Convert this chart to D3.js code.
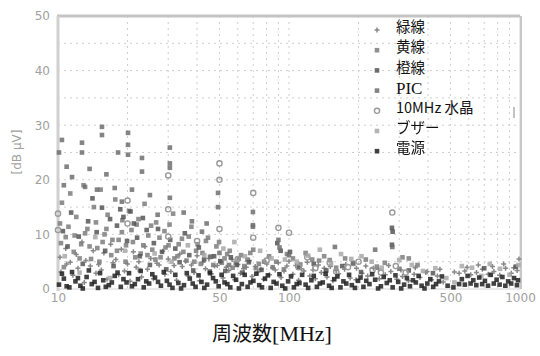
<!DOCTYPE html>
<html>
<head>
<meta charset="utf-8">
<script src="https://cdn.jsdelivr.net/npm/d3@7"></script>
<style>
  body { margin: 0; background: #fff; }
  svg { display: block; }
</style>
</head>
<body>
<svg id="chart" width="540" height="356"></svg>
<script>
// ticks
var xTicks = [10, 50, 100, 500, 1000]
var yTicks = [0, 10, 20, 30, 40, 50]
var xGrid = [20, 30, 40, 50, 60, 70, 80, 90, 100, 200, 300, 400, 500, 600, 700, 800, 900]
var yGrid = [5, 10, 15, 20, 25, 30, 35, 40, 45]

// series names (legend order)
var seriesNames = ["緑線", "黄線", "橙線", "PIC", "10MHz 水晶", "ブザー", "電源"]

// [MHz, dBuV]
var green = [[10.3,3.1],[10.9,4.6],[11.6,2.5],[12.2,3.8],[13.0,1.2],[13.8,4.2],[14.6,2.9],[15.4,3.5],[16.3,1.8],[17.3,4.8],[18.3,2.6],[19.4,3.3],[20.5,1.4],[21.8,4.0],[23.0,2.2],[24.4,3.6],[25.9,1.9],[27.4,4.4],[29.0,2.7],[30.8,3.2],[32.6,1.6],[34.5,4.1],[36.6,2.4],[38.8,3.0],[41.1,1.5],[43.5,3.7],[46.1,2.8],[48.9,4.3],[51.8,2.0],[54.9,3.4],[58.2,1.7],[61.6,2.9],[65.3,4.0],[69.2,2.3],[73.3,3.1],[77.7,1.8],[82.3,2.6],[87.2,3.5],[92.4,2.1],[97.9,4.2],[104,2.7],[110,1.6],[116,3.3],[123,2.4],[130,1.9],[138,3.0],[146,2.2],[155,1.5],[164,2.8],[174,3.6],[184,2.0],[195,1.7],[207,2.9],[219,2.4],[232,3.8],[246,1.9],[261,2.6],[276,3.2],[293,1.8],[310,2.3],[329,1.5],[348,2.7],[369,2.1],[391,3.0],[414,1.7],[439,2.4],[465,1.3],[545,2.9],[577,3.3],[612,2.6],[648,3.0],[687,3.6],[728,2.7],[771,3.2],[817,2.5],[866,3.8],[917,2.9],[972,3.4],[990,5.5],
  [10.2,5.8],[10.8,7.4],[11.3,4.9],[12.0,6.3],[12.7,8.6],[13.2,5.2],[14.2,7.0],[15.0,4.5],[15.8,6.6],[16.9,8.2],[17.8,5.4],[18.8,7.3],[20.0,4.6],[21.2,6.8],[22.4,5.0],[23.8,7.8],[25.2,5.6],[26.8,4.7],[28.4,6.9],[30.0,5.5],[31.8,4.3],[33.7,6.4],[35.7,5.1],[37.8,4.4],[40.0,6.1],[42.4,4.9],[45.0,5.6],[47.6,4.2],[50.5,5.0],[53.5,4.0],[56.7,5.4],[60.1,4.5],[63.6,3.7],[67.4,5.2],[71.4,4.1],[75.6,3.6],[80.1,4.6],[84.9,3.9],[89.9,4.8],[95.2,3.3],[100,5.1],[107,4.3],[113,3.7],[120,4.9],[127,3.5],[134,4.4],[142,3.8],[151,4.1],[160,3.4],[176,4.5],[196,3.8],[215,4.2],[244,3.6],[270,4.3],[305,3.5],[352,3.9],[396,3.2],[450,3.6],[520,3.1],[590,4.0],[660,4.4],[760,4.1],[850,4.6],[940,3.9]]

var yellow = [[10.2,12.0],[10.4,15.8],[10.8,9.5],[11.3,17.5],[11.7,6.8],[12.0,13.2],[12.6,8.2],[12.9,19.0],[13.4,11.0],[13.9,5.5],[14.3,15.0],[14.8,7.5],[15.3,18.2],[15.9,10.0],[16.4,13.6],[17.0,6.2],[17.7,16.4],[18.3,9.0],[19.0,12.6],[19.6,5.0],[20.3,14.3],[21.1,8.6],[21.9,11.8],[22.8,6.5],[23.7,15.6],[24.6,9.8],[25.6,7.2],[26.6,12.2],[27.8,5.8],[28.9,10.6],[30.1,8.0],[31.5,13.8],[32.9,6.0],[34.4,9.2],[36.0,5.2],[37.8,11.4],[39.6,7.0],[41.5,4.6],[43.7,8.8],[46.0,5.9],[48.5,7.8],[51.2,4.8],[54.0,6.4],[57.0,3.9],[60.5,5.6],[64.0,4.2],[68.0,6.6],[72.0,3.8],[78.0,5.0],[85.0,4.0],[95,3.6],[112,4.5],[135,5.2],[160,3.9],[190,4.6],[240,4.1],[300,3.7],[360,4.4],
  [10.3,8.4],[10.6,4.0],[11.1,11.4],[11.8,9.8],[12.4,5.6],[13.1,10.2],[13.7,7.8],[14.6,12.2],[15.1,5.0],[15.6,8.6],[16.2,11.0],[17.2,9.0],[18.0,7.0],[18.9,10.4],[19.7,8.0],[20.8,10.8],[21.6,5.8],[22.3,12.8],[23.4,8.0],[24.4,6.2],[25.3,11.6],[26.4,5.4],[27.5,9.4],[29.2,7.6],[30.4,11.8],[31.9,5.6],[33.3,8.2],[34.9,6.8],[36.8,9.6],[38.9,5.0],[40.2,8.2],[42.2,6.6],[44.6,9.4],[47.0,4.4],[49.8,8.6],[52.6,5.6],[55.4,7.0],[58.8,4.8],[62.0,6.2],[66.0,5.4],[70.0,7.2],[74.0,4.6],[82.0,6.0],[88.0,5.0],[98,6.4],[104,5.6],[118,6.6],[126,5.4],[142,6.0],[150,5.3],[175,5.6],[215,5.4],[260,4.8],[310,5.8],[330,5.6]]

var orange = [[10.5,10.6],[11.0,7.8],[11.4,14.0],[12.3,9.6],[12.8,4.6],[13.5,12.4],[14.1,16.6],[14.7,10.4],[15.5,14.9],[16.0,7.0],[16.8,12.8],[17.4,4.2],[18.0,11.6],[18.6,14.6],[19.2,13.2],[19.9,8.8],[20.6,14.2],[21.3,12.0],[22.0,9.4],[22.6,6.0],[23.3,13.0],[24.2,10.8],[25.0,4.4],[26.0,8.4],[27.1,11.0],[28.2,6.8],[29.4,3.6],[30.6,9.0],[32.2,7.4],[33.6,4.9],[35.4,10.2],[37.0,6.2],[38.5,3.4],[40.7,7.6],[42.9,5.4],[45.4,3.2],[47.4,6.0],[50.4,5.1],[53.0,3.3],[56.0,5.8],[59.5,4.4],[63.0,3.0],[67.0,4.9],[76,3.5],[89,8.4],[92,7.0],[101,6.8],[110,3.9],[128,4.6],[145,3.4],[170,4.2],[205,3.1],[279,11.2],[281,10.5],[279,8.1],[330,3.4],[420,2.9],[700,3.8],[960,4.1]]

var pic = [[10.4,27.3],[10.1,25.0],[10.6,19.0],[10.9,22.4],[12.7,26.8],[12.7,25.0],[13.1,18.7],[14.75,18.2],[15.5,29.7],[15.5,28.2],[17.6,18.5],[18.2,25.0],[20.1,28.6],[20.1,26.4],[20.1,24.6],[20.9,18.2],[23.1,24.0],[23.1,21.5],[30.5,25.9],[30.5,23.0],[30.5,22.2],[30.5,16.7],[11.5,20.5],[16.2,21.0],[13.7,22.0],[18.9,16.0],[25.0,17.2],[27.0,13.6],[35.0,14.0],[38.0,12.4],[42.0,10.5],[44.0,12.0],[49.3,17.6],[49.3,15.0],[69.8,14.1],[69.8,11.7],[69.8,11.4],[45.5,5.9],[50.0,6.6],[55.0,4.4],[90,9.0],[91,7.6],[100,6.2],[158,7.7],[236,7.2],[189,4.8],[280,7.7]]

var crystal = [[10,10.8],[10,13.8],[20,16.2],[20,12.0],[30,20.8],[30,14.6],[30,9.6],[40,8.8],[50,23.0],[50,20.0],[50,11.0],[60,5.5],[70,17.6],[70,9.4],[80,5.2],[90,11.2],[100,10.3],[110,4.0],[120,5.8],[130,3.8],[150,4.8],[160,3.2],[180,4.0],[200,5.0],[230,3.5],[250,3.0],[280,14.0],[290,4.2],[320,3.0]]

var buzzer = [[10.7,6.0],[12.4,3.0],[14.5,9.5],[16.8,2.0],[19.5,7.0],[22.5,3.5],[26.2,6.5],[31.0,5.0],[36.5,8.0],[43.0,6.2],[52.0,7.4],[58.0,8.6],[64.5,6.0],[75.0,7.0],[84.0,5.6],[96.0,5.4],[108,5.0],[121,6.1],[136,7.2],[152,4.6],[168,6.4],[186,5.5],[206,6.0],[228,5.0],[252,3.9],[300,5.3],[340,4.4],[380,3.3],[430,3.8],[480,2.0],[520,1.2],[560,4.2],[620,3.9],[680,2.4],[740,4.6],[820,3.7],[900,2.6],[985,4.4]]

var power = [[10.1,0.8],[10.6,1.9],[11.2,0.3],[11.9,1.4],[12.5,0.6],[13.3,2.2],[14.0,0.9],[14.9,0.2],[15.7,1.6],[16.6,0.7],[17.6,2.4],[18.7,0.4],[19.8,1.2],[20.9,0.5],[22.2,1.8],[23.5,0.3],[24.8,1.0],[26.3,2.1],[27.9,0.6],[29.6,1.5],[31.3,0.2],[33.2,1.1],[35.1,0.7],[37.2,1.9],[39.4,0.4],[41.8,1.3],[44.2,0.8],[46.9,2.0],[49.6,0.5],[52.6,1.2],[55.7,0.3],[59.0,1.7],[62.5,0.9],[66.2,0.4],[70.1,1.5],[74.3,0.7],[78.7,1.9],[83.3,0.2],[88.3,1.0],[93.5,0.6],[99.1,1.4],[105,0.3],[111,1.1],[118,0.8],[125,1.6],[132,0.4],[140,1.2],[149,0.6],[157,1.8],[167,0.3],[177,1.0],[187,0.7],[199,1.5],[210,0.4],[223,0.9],[236,1.7],[250,0.5],[265,1.1],[281,0.3],[297,1.3],[315,0.8],[334,0.5],[354,1.2],[375,0.6],[397,1.0],[421,0.4],[446,1.4],[560,1.8],[593,2.4],[628,1.6],[666,2.1],[705,1.5],[747,2.6],[792,1.7],[839,2.2],[889,1.4],[942,2.0],[980,1.6],
  [10.4,2.8],[10.9,0.5],[11.5,3.1],[12.2,2.0],[12.8,0.1],[13.6,3.4],[14.4,1.3],[15.2,2.9],[16.1,0.4],[17.1,1.2],[18.1,3.0],[19.2,1.8],[20.3,2.9],[21.5,0.9],[22.8,3.3],[24.1,1.4],[25.6,2.7],[27.1,1.3],[28.7,3.1],[30.4,0.8],[32.2,2.6],[34.1,0.1],[36.1,2.9],[38.3,1.0],[40.6,2.5],[43.0,0.2],[45.5,2.9],[48.2,1.4],[51.1,2.6],[54.1,0.9],[57.3,2.4],[60.7,0.1],[64.3,2.6],[68.1,1.2],[72.2,2.8],[76.4,0.3],[81.0,2.5],[85.8,1.3],[90.9,2.7],[96.3,0.1],[102,2.3],[108,0.9],[114,2.6],[121,0.2],[128,2.4],[136,1.0],[144,2.8],[153,0.2],[162,2.3],[172,1.4],[182,2.6],[193,0.2],[204,2.1],[216,1.5],[229,2.7],[243,0.1],[257,2.2],[273,1.6],[289,2.5],[306,0.1],[324,2.0],[344,1.6],[364,2.4],[386,0.1],[409,1.8],[433,0.9],[459,2.3],[486,0.6],[515,0.3],[545,0.9],[577,0.8],[611,1.0],[647,0.7],[686,0.9],[727,0.6],[770,1.0],[816,0.8],[864,0.6],[916,1.0],[970,0.7]]

var seriesData = [green, yellow, orange, pic, crystal, buzzer, power]
var seriesColor = ["#888888", "#7c7c7c", "#555555", "#6e6e6e", "#9a9a9a", "#a8a8a8", "#222222"]
var seriesShape = ["plus", "square", "square", "square", "circle", "square", "square"]

var svg = d3.select("#chart")

var x = d3.scaleLog().domain([10, 1000]).range([58, 520])
var y = d3.scaleLinear().domain([0, 50]).range([289, 16])

// grid
svg.append("g").selectAll("line").data(yGrid).enter().append("line")
  .attr("x1", 58).attr("x2", 520)
  .attr("y1", d => y(d)).attr("y2", d => y(d))
  .attr("stroke", "#cfcfcf").attr("stroke-dasharray", "2,4")
svg.append("g").selectAll("line").data(xGrid).enter().append("line")
  .attr("x1", d => x(d)).attr("x2", d => x(d))
  .attr("y1", 16).attr("y2", 289)
  .attr("stroke", "#cfcfcf").attr("stroke-dasharray", "2,4")

// frame
svg.append("rect").attr("x", x(10)).attr("y", y(50))
  .attr("width", x(1000) - x(10)).attr("height", y(0) - y(50))
  .attr("fill", "none").attr("stroke", "#d4d4d4").attr("stroke-width", 1)
svg.append("line").attr("x1", x(10) - 1).attr("x2", x(1000)).attr("y1", y(50)).attr("y2", y(50))
  .attr("stroke", "#c4c4c4").attr("stroke-width", 3)
svg.append("line").attr("x1", x(10)).attr("x2", x(10)).attr("y1", y(50)).attr("y2", y(0) + 2)
  .attr("stroke", "#d0d0d0").attr("stroke-width", 3)
svg.append("line").attr("x1", x(1000) + 1).attr("x2", x(1000) + 1).attr("y1", y(50)).attr("y2", y(0))
  .attr("stroke", "#c8c8c8").attr("stroke-width", 2)
// small stray tick on the right side
svg.append("line").attr("x1", 514).attr("x2", 514).attr("y1", 107).attr("y2", 118)
  .attr("stroke", "#999").attr("stroke-width", 1.2)

// axes labels (gray)
svg.append("g").attr("transform", "translate(" + (x(10) - 2) + ",0)")
  .call(d3.axisLeft(y).tickValues(yTicks).tickSize(0).tickPadding(6))
svg.append("g").attr("transform", "translate(0," + (y(0) + 1) + ")")
  .call(d3.axisBottom(x).tickValues(xTicks).tickSize(0).tickPadding(3).tickFormat(d3.format("d")))
svg.selectAll(".domain").remove()
svg.selectAll(".tick text")
  .attr("fill", "#a0a0a0")
  .style("font-family", "DejaVu Sans")
  .style("font-size", "12px")

// soft look for marks
var defs = svg.append("defs")
defs.append("filter").attr("id", "soft")
  .append("feGaussianBlur").attr("stdDeviation", 0.5)

function drawMark(sel, shape, color) {
  if (shape == "plus") {
    sel.append("path").attr("d", "M-2.5,0H2.5M0,-2.5V2.5")
      .attr("stroke", color).attr("stroke-width", 1.5).attr("fill", "none")
  } else if (shape == "circle") {
    sel.append("circle").attr("r", 2.6)
      .attr("fill", "none").attr("stroke", color).attr("stroke-width", 1.4)
  } else {
    sel.append("rect").attr("x", -2.3).attr("y", -2.3).attr("width", 4.6).attr("height", 4.6)
      .attr("fill", color).attr("fill-opacity", 0.85)
  }
}

var marks = svg.append("g").attr("filter", "url(#soft)")
seriesData.forEach(function(data, i) {
  marks.append("g").selectAll("g").data(data).enter().append("g")
    .attr("transform", d => "translate(" + x(d[0]) + "," + y(d[1]) + ")")
    .each(function() { drawMark(d3.select(this), seriesShape[i], seriesColor[i]) })
})

// legend
var legend = svg.append("g")
seriesNames.forEach(function(name, i) {
  var row = legend.append("g").attr("transform", "translate(0," + (27 + i * 20.2) + ")")
  row.append("g").attr("transform", "translate(377,3)").attr("filter", "url(#soft)")
    .call(s => drawMark(s, seriesShape[i], seriesColor[i]))
  row.append("text").attr("x", 396).attr("y", 0).attr("dy", "0.36em")
    .style("font-family", name == "PIC" ? "Liberation Serif" : "Noto Sans CJK JP")
    .style("font-size", name == "PIC" ? "17px" : "14.5px")
    .attr("fill", "#111")
    .text(name)
})

// y title
svg.append("text")
  .attr("transform", "translate(17,152) rotate(-90)")
  .attr("text-anchor", "middle").attr("dy", "0.35em")
  .attr("fill", "#a0a0a0")
  .style("font-family", "DejaVu Sans").style("font-size", "12px")
  .text("[dB μV]")

// x title
var xt = svg.append("text")
  .attr("x", 272).attr("y", 334).attr("dy", "0.35em")
  .attr("text-anchor", "middle").attr("fill", "#111")
  .style("font-size", "20px")
xt.append("tspan").style("font-family", "Noto Sans CJK JP").text("周波数")
xt.append("tspan").style("font-family", "Liberation Serif").style("font-size", "22px").text("[MHz]")
</script>
</body>
</html>
